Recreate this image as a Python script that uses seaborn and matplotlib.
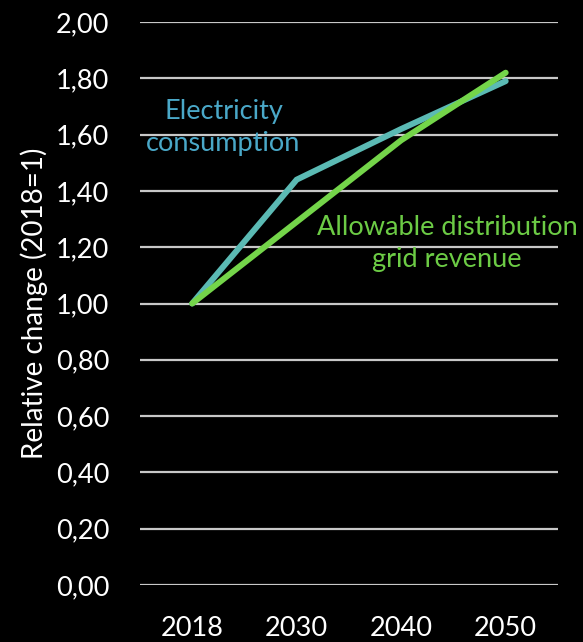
import matplotlib
matplotlib.use("Agg")
import matplotlib.pyplot as plt
import seaborn as sns
import pandas as pd

years = ["2018", "2030", "2040", "2050"]
electricity = [1.00, 1.44, 1.62, 1.79]
revenue = [1.00, 1.29, 1.58, 1.82]
series_names = ["Electricity\nconsumption", "Allowable distribution\ngrid revenue"]
y_ticks = [0.0, 0.2, 0.4, 0.6, 0.8, 1.0, 1.2, 1.4, 1.6, 1.8, 2.0]

line_colors = ["#5BBAB4", "#74D54A"]
text_colors = ["#4AA8C8", "#6CCB45"]

sns.set_style("dark")
plt.rcParams["font.family"] = ["Lato", "DejaVu Sans"]

df = pd.DataFrame({
    "pos": list(range(len(years))) * 2,
    "value": electricity + revenue,
    "series": [series_names[0]] * len(years) + [series_names[1]] * len(years),
})

fig = plt.figure(figsize=(5.83, 6.42), dpi=100, facecolor="black")
ax = fig.add_axes([0.240, 0.0888, 0.717, 0.8769])
ax.set_facecolor("black")

for yv in y_ticks:
    ax.axhline(yv, color="#C8C8C8", lw=1.6, zorder=1)

sns.lineplot(data=df, x="pos", y="value", hue="series", palette=line_colors,
             linewidth=4.3, legend=False, ax=ax, zorder=3,
             solid_capstyle="round", solid_joinstyle="miter")

ax.set_xlim(-0.5, len(years) - 0.5)
ax.set_ylim(0, 2.0)
ax.set_xticks(range(len(years)))
ax.set_xticklabels(years)
ax.set_yticks(y_ticks)
ax.set_yticklabels([f"{v:.2f}".replace(".", ",") for v in y_ticks])
ax.tick_params(axis="both", length=0, colors="white", labelsize=19.5)
ax.tick_params(axis="y", pad=22)
ax.tick_params(axis="x", pad=22)
ax.grid(False)
for s in ax.spines.values():
    s.set_visible(False)

ax.set_xlabel("")
ax.set_ylabel("Relative change (2018=1)", color="white", fontsize=20, labelpad=6)

ax.text(0.30, 1.625, series_names[0], color=text_colors[0], fontsize=19.5,
        ha="center", va="center", linespacing=1.35)
ax.text(2.44, 1.213, series_names[1], color=text_colors[1], fontsize=19.5,
        ha="center", va="center", linespacing=1.35)

fig.savefig("out.png", dpi=100, facecolor="black")
